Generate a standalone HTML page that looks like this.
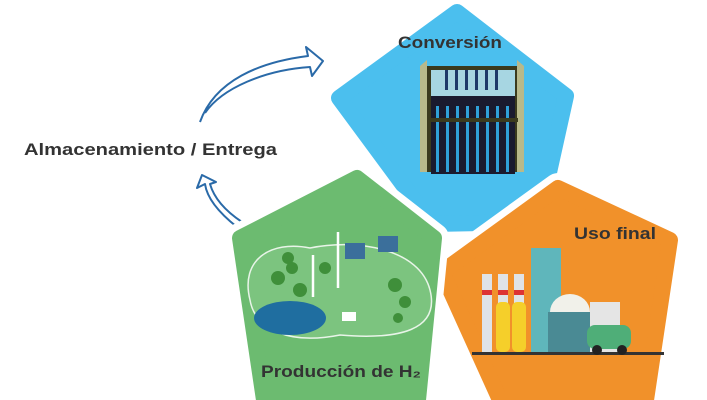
<!DOCTYPE html>
<html><head><meta charset="utf-8"><style>
html,body{margin:0;padding:0;background:#fff;}
svg{display:block;}
text{font-family:"Liberation Sans",sans-serif;font-weight:bold;fill:#333;}
</style></head><body>
<svg width="707" height="400" viewBox="0 0 707 400" xmlns="http://www.w3.org/2000/svg">
<!-- arrows -->
<g fill="none" stroke="#2a6aa8" stroke-width="2" stroke-linejoin="round">
<path d="M200,122 C215,80 260,62 308,56 L306,47 L323,61 L312,76 L310,67 C265,70 222,88 205,113"/>
<path d="M237,227 C218,212 207,198 205,184 L197,188 L202,175 L216,182 L210,184 C214,198 224,210 242,222"/>
</g>
<!-- pentagons -->
<g stroke-linejoin="round">
<path d="M457,12 L566,96 L538,222 L432,224 L339,98 Z" fill="#4bbfee" stroke="#4bbfee" stroke-width="16"/>
<path d="M558,188 L670,240 L646,400 L500,400 L442,272 Z" fill="none" stroke="#fff" stroke-width="30"/>
<path d="M558,188 L670,240 L646,400 L500,400 L442,272 Z" fill="#f1912a" stroke="#f1912a" stroke-width="16"/>
<path d="M357,178 L434,238 L418,400 L264,400 L240,238 Z" fill="none" stroke="#fff" stroke-width="30"/>
<path d="M357,178 L434,238 L418,400 L264,400 L240,238 Z" fill="#6cbb70" stroke="#6cbb70" stroke-width="16"/>
</g>
<!-- electrolyzer -->
<g>
<rect x="420" y="66" width="104" height="106" fill="#3b3a1d"/>
<polygon points="420,66 427,60 427,172 420,172" fill="#b9b98a"/>
<polygon points="517,60 524,66 524,172 517,172" fill="#b9b98a"/>
<rect x="431" y="70" width="84" height="26" fill="#a7d6e2"/>
<rect x="431" y="96" width="84" height="78" fill="#1a1a2e"/>
<g fill="#2fa0d8">
<rect x="436" y="106" width="3" height="66"/><rect x="446" y="106" width="3" height="66"/><rect x="456" y="106" width="3" height="66"/><rect x="466" y="106" width="3" height="66"/><rect x="476" y="106" width="3" height="66"/><rect x="486" y="106" width="3" height="66"/><rect x="496" y="106" width="3" height="66"/><rect x="506" y="106" width="3" height="66"/>
</g>
<g fill="#1e3a6a"><rect x="445" y="70" width="3" height="20"/><rect x="455" y="70" width="3" height="20"/><rect x="465" y="70" width="3" height="20"/><rect x="475" y="70" width="3" height="20"/><rect x="485" y="70" width="3" height="20"/><rect x="495" y="70" width="3" height="20"/></g>
<rect x="428" y="118" width="90" height="4" fill="#3b3a1d"/>
</g>
<!-- production illustration -->
<g>
<path d="M250,300 C240,260 270,240 310,248 C360,238 420,250 430,290 C440,330 400,340 340,335 C290,345 255,330 250,300Z" fill="#7cc47f" stroke="#e8f4e8" stroke-width="1.5"/>
<ellipse cx="290" cy="318" rx="36" ry="17" fill="#1f6ea0"/>
<g fill="#3f8f3a"><circle cx="278" cy="278" r="7"/><circle cx="292" cy="268" r="6"/><circle cx="300" cy="290" r="7"/><circle cx="288" cy="258" r="6"/><circle cx="395" cy="285" r="7"/><circle cx="405" cy="302" r="6"/><circle cx="398" cy="318" r="5"/><circle cx="325" cy="268" r="6"/></g>
<g stroke="#fff" stroke-width="2.5"><line x1="313" y1="255" x2="313" y2="297"/><line x1="338" y1="232" x2="338" y2="288"/></g>
<g fill="#3b6f9b"><rect x="345" y="243" width="20" height="16"/><rect x="378" y="236" width="20" height="16"/></g>
<rect x="342" y="312" width="14" height="9" fill="#fff"/>
</g>
<!-- end use illustration -->
<g>
<rect x="472" y="352" width="192" height="3" fill="#333"/>
<rect x="482" y="274" width="10" height="78" fill="#dfe3e6"/><rect x="482" y="290" width="10" height="5" fill="#d33"/>
<rect x="498" y="274" width="10" height="30" fill="#dfe3e6"/><rect x="498" y="290" width="10" height="5" fill="#d33"/>
<rect x="514" y="274" width="10" height="30" fill="#dfe3e6"/><rect x="514" y="290" width="10" height="5" fill="#d33"/>
<rect x="496" y="302" width="14" height="50" rx="5" fill="#f5cf2a"/><rect x="512" y="302" width="14" height="50" rx="5" fill="#f5cf2a"/>
<rect x="531" y="248" width="30" height="104" fill="#5fb6bb"/>
<path d="M550,312 a20,18 0 0 1 40,0 Z" fill="#f1f1ea"/>
<rect x="548" y="312" width="44" height="40" fill="#4a8a94"/>
<rect x="590" y="302" width="30" height="50" fill="#e5e5e5"/>
<rect x="587" y="325" width="44" height="24" rx="8" fill="#4fae78"/>
<circle cx="597" cy="350" r="5" fill="#222"/><circle cx="622" cy="350" r="5" fill="#222"/>
</g>
<!-- labels -->
<text x="24" y="155" font-size="17" textLength="253" lengthAdjust="spacingAndGlyphs">Almacenamiento / Entrega</text>
<text x="398" y="48" font-size="17" textLength="104" lengthAdjust="spacingAndGlyphs">Conversión</text>
<text x="574" y="239" font-size="17" textLength="82" lengthAdjust="spacingAndGlyphs">Uso final</text>
<text x="261" y="377" font-size="17" textLength="160" lengthAdjust="spacingAndGlyphs">Producción de H₂</text>
</svg>
</body></html>
